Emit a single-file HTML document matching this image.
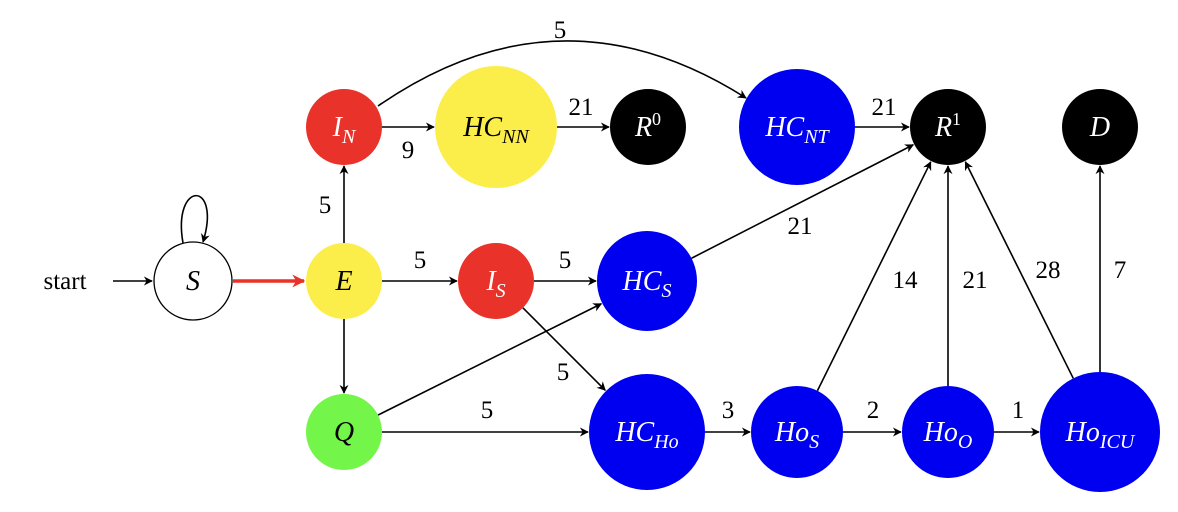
<!DOCTYPE html>
<html><head><meta charset="utf-8">
<style>
html,body{margin:0;padding:0;background:#fff;}
svg{display:block;}
.lbl{font-family:"Liberation Serif",serif;font-style:italic;font-size:28px;}
.num{font-family:"Liberation Serif",serif;font-size:25px;fill:#000;}
</style></head>
<body>
<svg id="chart" width="1178" height="512" viewBox="0 0 1178 512" xmlns="http://www.w3.org/2000/svg">
<defs>
<marker id="arr" viewBox="0 0 10 10" refX="9" refY="5" markerWidth="9" markerHeight="9" orient="auto" markerUnits="userSpaceOnUse"><path d="M0,0 L10,5 L0,10 L3,5 z" fill="#000"/></marker>
<marker id="arrR" viewBox="0 0 10 10" refX="9" refY="5" markerWidth="13" markerHeight="13" orient="auto" markerUnits="userSpaceOnUse"><path d="M0,0 L10,5 L0,10 L3,5 z" fill="#e8322a"/></marker>
</defs>
<g id="edges"></g>
<g id="nodes"></g>
</svg>
<script>
var nodeIds=["S","E","IN","HCNN","R0","HCNT","R1","D","IS","HCS","Q","HCHo","HoS","HoO","HoICU"];
var nodeX=[193,344,344,496,648,797,948,1100,496,647,344,647,797,948,1100];
var nodeY=[281,281,127,127,127,127,127,127,281,281,432,432,432,432,432];
var nodeR=[39,38,38,61,38,58,38,38,38,50,38,58,46,46,60];
var nodeFill=["#fff","#fcee4a","#e8322a","#fcee4a","#000","#0000f0","#000","#000","#e8322a","#0000f0","#74f54a","#0000f0","#0000f0","#0000f0","#0000f0"];
var nodeMain=["S","E","I","HC","R","HC","R","D","I","HC","Q","HC","Ho","Ho","Ho"];
var nodeSub=["","","N","NN","","NT","","","S","S","","Ho","S","O","ICU"];
var nodeSup=["","","","","0","","1","","","","","","","",""];
var edgeFrom=["E","E","E","IN","HCNN","HCNT","IS","IS","HCS","Q","Q","HCHo","HoS","HoO","HoS","HoO","HoICU","HoICU"];
var edgeTo=["IN","IS","Q","HCNN","R0","R1","HCS","HCHo","R1","HCS","HCHo","HoS","HoO","HoICU","R1","R1","R1","D"];
var edgeLabel=["5","5","","9","21","21","5","5","21","","5","3","2","1","14","21","28","7"];
var edgeLX=[325,420,0,408,581,884,565,563,800,0,487,728,873,1018,905,975,1048,1120];
var edgeLY=[213,268,0,158,115,115,268,380,234,0,418,418,418,418,288,288,278,278];

var NS="http://www.w3.org/2000/svg";
var eg=document.getElementById('edges'), ng=document.getElementById('nodes');
function idx(id){return nodeIds.indexOf(id);}
function mk(tag,attrs,parent){var e=document.createElementNS(NS,tag);for(var k in attrs)e.setAttribute(k,attrs[k]);parent.appendChild(e);return e;}

for(var i=0;i<edgeFrom.length;i++){
  var a=idx(edgeFrom[i]),b=idx(edgeTo[i]);
  var dx=nodeX[b]-nodeX[a],dy=nodeY[b]-nodeY[a],L=Math.sqrt(dx*dx+dy*dy),ux=dx/L,uy=dy/L;
  var ln=mk('line',{x1:nodeX[a]+ux*nodeR[a],y1:nodeY[a]+uy*nodeR[a],x2:nodeX[b]-ux*(nodeR[b]+1),y2:nodeY[b]-uy*(nodeR[b]+1),stroke:'#000','stroke-width':1.6,'marker-end':'url(#arr)'},eg);
  
  
  if(edgeLabel[i]){
    var t=mk('text',{x:edgeLX[i],y:edgeLY[i],'text-anchor':'middle','class':'num'},eg);
    t.textContent=edgeLabel[i];
    
    
  }
}
var cv=mk('path',{d:'M378,106 Q560,-20 746,98',fill:'none',stroke:'#000','stroke-width':1.6,'marker-end':'url(#arr)'},eg);


var ct=mk('text',{x:560,y:38,'text-anchor':'middle','class':'num'},eg);ct.textContent='5';


var sl=mk('path',{d:'M183,243 C172,180 222,180 203,242',fill:'none',stroke:'#000','stroke-width':1.6,'marker-end':'url(#arr)'},eg);


var st=mk('text',{x:65,y:289,'text-anchor':'middle','class':'num'},eg);st.textContent='start';


var sa=mk('line',{x1:113,y1:281,x2:152,y2:281,stroke:'#000','stroke-width':1.6,'marker-end':'url(#arr)'},eg);


var re=mk('line',{x1:233,y1:281,x2:304,y2:281,stroke:'#e8322a','stroke-width':3.5,'marker-end':'url(#arrR)'},eg);



for(var j=0;j<nodeIds.length;j++){
  var g=mk('g',{},ng);
  
  
  mk('circle',{cx:nodeX[j],cy:nodeY[j],r:nodeR[j],fill:nodeFill[j],stroke:nodeIds[j]==='S'?'#000':'none','stroke-width':1.3},g);
  var dark=(nodeFill[j]==='#fff'||nodeFill[j]==='#fcee4a'||nodeFill[j]==='#74f54a');
  var tx=mk('text',{x:nodeX[j],y:nodeY[j]+9,'text-anchor':'middle','class':'lbl',fill:dark?'#000':'#fff'},g);
  var m=document.createElementNS(NS,'tspan');m.textContent=nodeMain[j];tx.appendChild(m);
  if(nodeSub[j]){var s=document.createElementNS(NS,'tspan');s.setAttribute('dy','7');s.setAttribute('font-size','20');s.textContent=nodeSub[j];tx.appendChild(s);}
  if(nodeSup[j]){var p=document.createElementNS(NS,'tspan');p.setAttribute('dy','-11');p.setAttribute('font-size','18');p.setAttribute('font-style','normal');p.textContent=nodeSup[j];tx.appendChild(p);}
}
</script>
</body></html>
